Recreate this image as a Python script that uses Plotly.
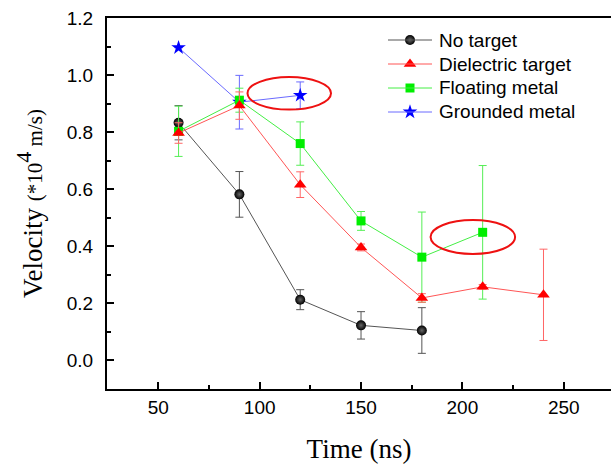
import plotly.graph_objects as go

# Time (ns) and velocity (*10^4 m/s) with symmetric error bars
t_no = [60, 90, 120, 150, 180]
v_no = [0.833, 0.582, 0.213, 0.123, 0.105]
e_no = [0.06, 0.08, 0.035, 0.048, 0.08]

t_di = [60, 90, 120, 150, 180, 210, 240]
v_di = [0.797, 0.893, 0.616, 0.396, 0.219, 0.258, 0.23]
e_di = [0.036, 0.048, 0.045, 0.012, 0.015, 0.008, 0.16]

t_fl = [60, 90, 120, 150, 180, 210]
v_fl = [0.803, 0.912, 0.76, 0.489, 0.362, 0.449]
e_fl = [0.088, 0.042, 0.076, 0.033, 0.158, 0.234]

t_gr = [60, 90, 120]
v_gr = [1.096, 0.905, 0.929]
e_gr = [0.0, 0.094, 0.047]

x_ticks = [50, 100, 150, 200, 250]
y_ticks = [0.0, 0.2, 0.4, 0.6, 0.8, 1.0, 1.2]

legend_names = ["No target", "Dielectric target", "Floating metal", "Grounded metal"]

# plot area in pixels (for placing the hand-drawn legend)
W, H = 611, 465
L, R, T, B = 107, 0, 18, 76
PW, PH = W - L - R, H - T - B


def px_to_paper(x, y):
    return (x - L) / PW, (H - B - y) / PH


fig = go.Figure()

styles = {}


def add_series(name, t, v, e, line_color, err_color, symbol, size, marker_color, grad=None):
    marker = dict(symbol=symbol, size=size, color=marker_color, line=dict(width=0))
    if grad:
        marker["gradient"] = dict(type="radial", color=grad)
    styles[name] = (line_color, marker)
    fig.add_trace(go.Scatter(
        x=t, y=v, name=name, mode="lines+markers", showlegend=False,
        line=dict(color=line_color, width=1),
        marker=marker,
        error_y=dict(type="data", array=e, visible=True, color=err_color,
                     thickness=1, width=4),
    ))


add_series("Grounded metal", t_gr, v_gr, e_gr, "#6a6aff", "#6a6aff",
           "star", 11, "#0000ff")
add_series("No target", t_no, v_no, e_no, "#555555", "#555555",
           "circle", 10, "#000000", grad="#666666")
add_series("Floating metal", t_fl, v_fl, e_fl, "#44ee44", "#55ee55",
           "square", 9, "#00ee00")
add_series("Dielectric target", t_di, v_di, e_di, "#ff5555", "#ff6666",
           "triangle-up", 11, "#ff0000")

# highlight rings around the two outlying points
for x0, x1, y0, y1 in [(94, 135.2, 0.879, 0.993), (184.3, 226, 0.373, 0.492)]:
    fig.add_shape(type="circle", xref="x", yref="y", x0=x0, x1=x1, y0=y0, y1=y1,
                  line=dict(color="#ee1111", width=2))

# legend: line segment, marker and label for each series
for i, name in enumerate(legend_names):
    row_y = 40 + i * 24
    line_color, marker = styles[name]
    lx0, ly = px_to_paper(388, row_y)
    lx1, _ = px_to_paper(432, row_y)
    mx, _ = px_to_paper(410, row_y)
    tx, _ = px_to_paper(437, row_y)
    fig.add_shape(type="line", xref="paper", yref="paper",
                  x0=lx0, x1=lx1, y0=ly, y1=ly, line=dict(color=line_color, width=1))
    fig.add_trace(go.Scatter(x=[mx], y=[ly], xaxis="x2", yaxis="y2", mode="markers",
                             marker=marker, showlegend=False, hoverinfo="skip"))
    fig.add_annotation(x=tx, y=ly, xref="paper", yref="paper", text=name,
                       showarrow=False, xanchor="left", yanchor="middle",
                       font=dict(family="Liberation Sans, Arial", size=19, color="black"))

axis_common = dict(
    showline=True, linecolor="black", linewidth=2,
    ticks="inside", ticklen=7, tickwidth=2, tickcolor="black",
    showgrid=False, zeroline=False,
    tickfont=dict(family="Liberation Sans, Arial", size=19, color="black"),
)

fig.update_layout(
    width=W, height=H,
    margin=dict(l=L, r=R, t=T, b=B),
    paper_bgcolor="white", plot_bgcolor="white",
    showlegend=False,
    xaxis=dict(
        range=[24.7, 273.3], tickvals=x_ticks, mirror=True,
        minor=dict(ticks="inside", ticklen=4, tickwidth=2, tickcolor="black", dtick=25),
        title=dict(text="Time (ns)", standoff=22,
                   font=dict(family="Liberation Serif, Times New Roman", size=27, color="black")),
        **axis_common,
    ),
    yaxis=dict(
        range=[-0.1, 1.2], tickvals=y_ticks, tickformat=".1f",
        minor=dict(ticks="inside", ticklen=4, tickwidth=2, tickcolor="black", dtick=0.1),
        ticklabelstandoff=8,
        title=dict(
            text="Velocity <span style='font-size:21px'>(*10</span>"
                 "<sup><span style='font-size:22px'>4</span></sup>"
                 "<span style='font-size:21px'> m/s)</span>",
            standoff=16,
            font=dict(family="Liberation Serif, Times New Roman", size=27, color="black")),
        **axis_common,
    ),
    xaxis2=dict(range=[0, 1], overlaying="x", visible=False, fixedrange=True),
    yaxis2=dict(range=[0, 1], overlaying="y", visible=False, fixedrange=True),
)

fig.write_html("out.html")
